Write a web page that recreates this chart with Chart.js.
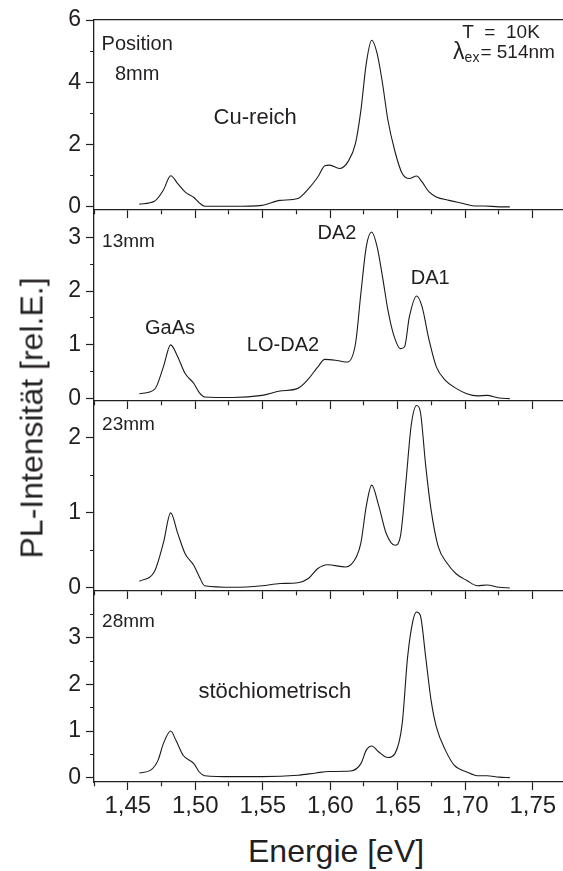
<!DOCTYPE html>
<html>
<head>
<meta charset="utf-8">
<script src="https://cdn.jsdelivr.net/npm/chart.js@4.4.1/dist/chart.umd.min.js"></script>
<style>
html,body{margin:0;padding:0;background:#fff;overflow:hidden;}
#wrap{position:relative;width:563px;height:871px;overflow:hidden;background:#fff;}
canvas{position:absolute;left:0;}
.title{position:absolute;font-family:"Liberation Sans",Arial,sans-serif;color:#231f20;white-space:nowrap;font-size:32px;line-height:32px;}
</style>
</head>
<body>
<div id="wrap">
  <canvas id="c1"></canvas>
  <canvas id="c2"></canvas>
  <canvas id="c3"></canvas>
  <canvas id="c4"></canvas>
  <div class="title" id="xt">Energie [eV]</div>
  <div class="title" id="yt">PL-Intensität [rel.E.]</div>
</div>
<script>
// ---------- data ----------
const energy8 = [1.4586,1.4698,1.4764,1.4818,1.487,1.4924,1.499,1.503,1.507,1.528,1.5495,1.5628,1.576,1.584,1.5908,1.596,1.5996,1.6068,1.6134,1.6187,1.6227,1.6267,1.6307,1.6347,1.6387,1.6427,1.648,1.6533,1.6586,1.664,1.668,1.6732,1.6786,1.6879,1.6985,1.7065,1.7145,1.725,1.733];
const pl8mm   = [0.09,0.18,0.54,1.0,0.75,0.48,0.30,0.13,0.02,0.02,0.05,0.21,0.27,0.59,0.96,1.32,1.34,1.23,1.47,2.04,3.1,4.61,5.35,4.93,3.97,2.79,1.77,1.07,0.91,0.99,0.80,0.48,0.32,0.21,0.11,0.03,0.03,0.0,0.0];

const energy13 = [1.4586,1.4698,1.4764,1.4818,1.487,1.4924,1.499,1.503,1.507,1.528,1.5495,1.5628,1.576,1.584,1.5908,1.596,1.605,1.6127,1.6187,1.6227,1.6267,1.6307,1.6347,1.6387,1.6427,1.6467,1.652,1.655,1.6586,1.664,1.668,1.6732,1.6786,1.6853,1.6932,1.7012,1.709,1.716,1.725,1.733];
const pl13mm   = [0.09,0.17,0.59,1.0,0.78,0.47,0.28,0.11,0.03,0.02,0.06,0.14,0.19,0.37,0.59,0.73,0.71,0.68,1.02,1.96,2.83,3.1,2.83,2.27,1.65,1.21,0.93,0.96,1.52,1.91,1.71,1.09,0.59,0.34,0.19,0.09,0.05,0.06,0.01,0.0];

const energy23 = [1.4586,1.4698,1.4764,1.4818,1.487,1.4924,1.499,1.503,1.507,1.528,1.5495,1.5628,1.576,1.584,1.5908,1.598,1.6114,1.6195,1.6227,1.6267,1.6307,1.636,1.6414,1.648,1.652,1.656,1.66,1.664,1.6667,1.6707,1.6747,1.68,1.6866,1.6932,1.7012,1.709,1.716,1.725,1.733];
const pl23mm   = [0.09,0.22,0.6,1.0,0.73,0.46,0.30,0.15,0.03,0.01,0.03,0.06,0.07,0.13,0.26,0.31,0.28,0.42,0.6,1.09,1.37,1.09,0.73,0.57,0.69,1.4,2.17,2.43,2.35,1.63,1.04,0.55,0.33,0.19,0.10,0.03,0.04,0.01,0.0];

const energy28 = [1.4586,1.467,1.4724,1.4764,1.4818,1.4857,1.491,1.499,1.503,1.507,1.528,1.5495,1.576,1.5895,1.599,1.615,1.6227,1.6267,1.6307,1.636,1.6427,1.648,1.6533,1.6573,1.6613,1.664,1.6667,1.6707,1.6747,1.6786,1.6853,1.692,1.7012,1.709,1.716,1.725,1.733];
const pl28mm   = [0.10,0.16,0.37,0.73,1.0,0.8,0.48,0.30,0.12,0.04,0.02,0.02,0.05,0.10,0.13,0.14,0.30,0.59,0.68,0.55,0.43,0.52,1.16,2.59,3.38,3.56,3.49,2.59,1.66,1.09,0.59,0.26,0.12,0.04,0.04,0.01,0.0];

// ---------- ticks ----------
const xTickValues = [1.425,1.45,1.475,1.50,1.525,1.55,1.575,1.60,1.625,1.65,1.675,1.70,1.725,1.75,1.775];
const xTickLabels = ["1,45","1,50","1,55","1,60","1,65","1,70","1,75"];
const xMajorValues = [1.45,1.50,1.55,1.60,1.65,1.70,1.75];

const yTicks8  = [0,1,2,3,4,5,6];         const yMajor8  = [0,2,4,6];
const yTicks13 = [0,0.5,1,1.5,2,2.5,3];   const yMajor13 = [0,1,2,3];
const yTicks23 = [0,0.5,1,1.5,2];         const yMajor23 = [0,1,2];
const yTicks28 = [0,0.5,1,1.5,2,2.5,3,3.5]; const yMajor28 = [0,1,2,3];

// ---------- styling / layout ----------
const FONT = '"Liberation Sans", Arial, Helvetica, sans-serif';
const INK = '#231f20';
const X_MIN = 1.425, X_MAX = 1.7776;
const PAD_TOP = 15;
const CANVAS_W = 570;
const AXIS_W = 94;

function near(a, b){ return Math.abs(a-b) < 1e-6; }
function inList(v, list){ return list.some(m => near(m, v)); }

const annotPlugin = {
  id: 'annot',
  afterDatasetsDraw(chart, args, opts) {
    const ctx = chart.ctx, xs = chart.scales.x, ys = chart.scales.y;
    const items = opts.items || [];
    ctx.save();
    ctx.fillStyle = INK;
    ctx.textBaseline = 'middle';
    for (let i = 0; i < items.length; i++) {
      const it = items[i];
      const px = xs.getPixelForValue(it.x), py = ys.getPixelForValue(it.y);
      if (it.kind === 'lambda') {
        ctx.textAlign = 'left';
        let cx = px;
        ctx.font = '23px ' + FONT;
        ctx.fillText('λ', cx, py);
        cx += ctx.measureText('λ').width;
        ctx.font = '14px ' + FONT;
        ctx.fillText('ex', cx, py + 5);
        cx += ctx.measureText('ex').width + 1;
        ctx.font = '19px ' + FONT;
        ctx.fillText('= 514nm', cx, py);
      } else {
        ctx.font = it.size + 'px ' + FONT;
        ctx.textAlign = it.align || 'center';
        ctx.fillText(it.text, px, py);
      }
    }
    ctx.restore();
  }
};

function makePanel(id, areaTop, areaH, bottomExtra, energies, values, yMin, yMax, yTickVals, yMajor, showXLabels, items, topBorder) {
  const cv = document.getElementById(id);
  const h = PAD_TOP + areaH + bottomExtra;
  cv.width = CANVAS_W; cv.height = h;
  cv.style.width = CANVAS_W + 'px'; cv.style.height = h + 'px';
  cv.style.top = (areaTop - PAD_TOP) + 'px';
  const pts = energies.map((e, i) => ({x: e, y: values[i]}));
  const scales = {
    x: {
      type: 'linear', position: 'bottom', min: X_MIN, max: X_MAX,
      afterBuildTicks: s => { s.ticks = xTickValues.map(v => ({value: v})); },
      afterFit: s => { s.height = bottomExtra; s.paddingLeft = 0; s.paddingRight = 0; },
      ticks: {
        display: showXLabels, autoSkip: false, maxRotation: 0, minRotation: 0, padding: 2,
        color: INK, font: {family: FONT, size: 24},
        callback: (v) => { const k = xMajorValues.findIndex(m => near(m, v)); return k >= 0 ? xTickLabels[k] : ''; }
      },
      grid: {
        drawOnChartArea: false, drawTicks: true, tickLength: 8, tickColor: INK, tickWidth: 1.2,
        tickBorderDash: c => (c.tick && inList(c.tick.value, xMajorValues)) ? [] : [4, 30]
      },
      border: {display: true, color: INK, width: 1.3}
    },
    y: {
      type: 'linear', position: 'left', min: yMin, max: yMax,
      afterBuildTicks: s => { s.ticks = yTickVals.map(v => ({value: v})); },
      afterFit: s => { s.width = AXIS_W; s.paddingTop = 0; s.paddingBottom = 0; },
      ticks: {
        autoSkip: false, padding: 5, color: INK, font: {family: FONT, size: 23},
        callback: (v) => inList(v, yMajor) ? String(Math.round(v)) : ''
      },
      grid: {
        drawOnChartArea: false, drawTicks: true, tickLength: 8, tickColor: INK, tickWidth: 1.2,
        tickBorderDash: c => (c.tick && inList(c.tick.value, yMajor)) ? [] : [0, 4, 4, 30]
      },
      border: {display: true, color: INK, width: 1.3}
    }
  };
  if (topBorder) {
    scales.xTop = {
      type: 'linear', position: 'top', min: X_MIN, max: X_MAX,
      ticks: {display: false},
      grid: {drawOnChartArea: false, drawTicks: false},
      border: {display: true, color: INK, width: 1.3}
    };
  }
  return new Chart(cv, {
    type: 'line',
    data: { datasets: [{
      data: pts, borderColor: '#1a1a1a', borderWidth: 1.1, pointRadius: 0,
      cubicInterpolationMode: 'monotone', fill: false
    }]},
    options: {
      responsive: false, animation: false, devicePixelRatio: 1,
      layout: {padding: {top: PAD_TOP, left: 0, right: 0, bottom: 0}},
      plugins: {legend: {display: false}, tooltip: {enabled: false}, annot: {items: items}},
      scales: scales
    },
    plugins: [annotPlugin]
  });
}

makePanel('c1', 20, 190, 12, energy8, pl8mm, -0.1, 6, yTicks8, yMajor8, false, [
  {text: 'Position', x: 1.457, y: 5.2, size: 20},
  {text: '8mm', x: 1.457, y: 4.25, size: 20},
  {text: 'Cu-reich', x: 1.5444, y: 2.85, size: 22},
  {text: 'T  =  10K', x: 1.7265, y: 5.58, size: 19},
  {kind: 'lambda', x: 1.691, y: 4.94}
], true);

makePanel('c2', 210, 191, 12, energy13, pl13mm, -0.045, 3.51, yTicks13, yMajor13, false, [
  {text: '13mm', x: 1.431, y: 2.92, size: 19, align: 'left'},
  {text: 'DA2', x: 1.605, y: 3.08, size: 20},
  {text: 'DA1', x: 1.674, y: 2.24, size: 20},
  {text: 'GaAs', x: 1.4813, y: 1.30, size: 20},
  {text: 'LO-DA2', x: 1.565, y: 0.99, size: 20}
], false);

makePanel('c3', 401, 190, 12, energy23, pl23mm, -0.04, 2.49, yTicks23, yMajor23, false, [
  {text: '23mm', x: 1.431, y: 2.18, size: 19, align: 'left'}
], false);

makePanel('c4', 591, 191, 45, energy28, pl28mm, -0.095, 4.01, yTicks28, yMajor28, true, [
  {text: '28mm', x: 1.431, y: 3.34, size: 19, align: 'left'},
  {text: 'stöchiometrisch', x: 1.559, y: 1.84, size: 22}
], false);

// axis titles (HTML text)
const xt = document.getElementById('xt');
xt.style.left = (336 - xt.offsetWidth / 2) + 'px';
xt.style.top = (851 - 16) + 'px';
const yt = document.getElementById('yt');
yt.style.left = (31 - yt.offsetWidth / 2) + 'px';
yt.style.top = (418 - 16) + 'px';
yt.style.transform = 'rotate(-90deg)';
yt.style.transformOrigin = '50% 50%';
</script>
</body>
</html>
